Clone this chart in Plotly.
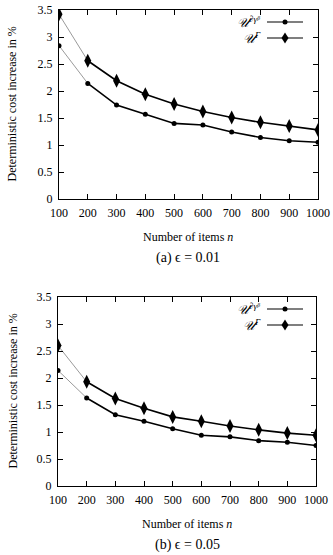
import plotly.graph_objects as go

n_items = [100, 200, 300, 400, 500, 600, 700, 800, 900, 1000]
a_ugb = [2.84, 2.14, 1.74, 1.57, 1.40, 1.37, 1.24, 1.14, 1.08, 1.05]
a_gam = [3.42, 2.56, 2.19, 1.94, 1.76, 1.62, 1.51, 1.42, 1.35, 1.28]
b_ugb = [2.14, 1.63, 1.32, 1.20, 1.06, 0.94, 0.91, 0.84, 0.81, 0.75]
b_gam = [2.60, 1.93, 1.62, 1.44, 1.28, 1.20, 1.11, 1.04, 0.98, 0.94]
x_ticks = [100, 200, 300, 400, 500, 600, 700, 800, 900, 1000]
y_ticks = [0, 0.5, 1, 1.5, 2, 2.5, 3, 3.5]
y_ticklabels = ["0", "0.5", "1", "1.5", "2", "2.5", "3", "3.5"]
series_names = ["𝒰<sup>∂γᵝ</sup>", "𝒰<sup>Γ</sup>"]
captions = ["(a) ϵ = 0.01", "(b) ϵ = 0.05"]

W, H = 333, 555
SERIF = "'Liberation Serif', 'DejaVu Serif', serif"

fig = go.Figure()

panels = [
    dict(xa="x", ya="y", ugb=a_ugb, gam=a_gam, px=(59, 318), py=(10, 199)),
    dict(xa="x2", ya="y2", ugb=b_ugb, gam=b_gam, px=(58, 316), py=(297, 486)),
]

for p in panels:
    for vals, sym, msize in [(p["ugb"], "circle", 5), (p["gam"], "diamond-tall", 10)]:
        fig.add_trace(go.Scatter(x=n_items[:2], y=vals[:2], mode="lines",
                                 line=dict(color="#9a9a9a", width=1),
                                 xaxis=p["xa"], yaxis=p["ya"], showlegend=False,
                                 hoverinfo="skip"))
        fig.add_trace(go.Scatter(x=n_items[1:], y=vals[1:], mode="lines",
                                 line=dict(color="black", width=1.6),
                                 xaxis=p["xa"], yaxis=p["ya"], showlegend=False))
        fig.add_trace(go.Scatter(x=n_items, y=vals, mode="markers",
                                 marker=dict(symbol=sym, size=msize, color="black"),
                                 xaxis=p["xa"], yaxis=p["ya"], showlegend=False))

axis_common = dict(showgrid=False, zeroline=False, showline=True, linecolor="black",
                   linewidth=1, mirror="ticks", ticks="inside", ticklen=5,
                   tickcolor="black", tickwidth=1, automargin=False,
                   tickfont=dict(family=SERIF, size=12, color="black"))

layout = dict(width=W, height=H, margin=dict(l=0, r=0, t=0, b=0),
              paper_bgcolor="white", plot_bgcolor="white", showlegend=False)

annotations = []
shapes = []
for i, p in enumerate(panels):
    sfx = "" if i == 0 else "2"
    x0, x1 = p["px"]
    y0, y1 = p["py"]
    layout["xaxis" + sfx] = dict(axis_common, domain=[x0 / W, x1 / W], range=[100, 1000],
                                 tickvals=x_ticks, anchor="y" + sfx, ticklabelstandoff=3)
    layout["yaxis" + sfx] = dict(axis_common, domain=[1 - y1 / H, 1 - y0 / H], range=[0, 3.5],
                                 tickvals=y_ticks, ticktext=y_ticklabels, anchor="x" + sfx,
                                 ticklabelstandoff=3)
    cx = (x0 + x1) / 2
    cy = (y0 + y1) / 2
    annotations.append(dict(text="Deterministic cost increase in %", textangle=-90,
                            x=12 / W, y=1 - cy / H, xref="paper", yref="paper",
                            xanchor="center", yanchor="middle",
                            showarrow=False, font=dict(family=SERIF, size=12, color="black")))
    annotations.append(dict(text="Number of items <i>n</i>",
                            x=cx / W, y=1 - (y1 + 38) / H, xref="paper", yref="paper",
                            xanchor="center", yanchor="middle",
                            showarrow=False, font=dict(family=SERIF, size=12, color="black")))
    annotations.append(dict(text=captions[i],
                            x=cx / W, y=1 - (y1 + 59) / H, xref="paper", yref="paper",
                            xanchor="center", yanchor="middle",
                            showarrow=False, font=dict(family=SERIF, size=14, color="black")))
    for j, (name, sym) in enumerate(zip(series_names, ["circle", "diamond"])):
        ly = y0 + 12 + j * 16
        annotations.append(dict(text="<i>" + name + "</i>", x=263 / W, y=1 - ly / H,
                                xref="paper", yref="paper", xanchor="right", yanchor="middle",
                                showarrow=False, font=dict(family=SERIF, size=13, color="black")))
        lx0, lx1 = 267, 303
        shapes.append(dict(type="line", xref="paper", yref="paper",
                           x0=lx0 / W, x1=lx1 / W, y0=1 - ly / H, y1=1 - ly / H,
                           line=dict(color="black", width=1.2)))
        mx = (lx0 + lx1) / 2
        if sym == "circle":
            shapes.append(dict(type="circle", xref="paper", yref="paper",
                               xsizemode="pixel", ysizemode="pixel",
                               xanchor=mx / W, yanchor=1 - ly / H,
                               x0=-2.5, x1=2.5, y0=-2.5, y1=2.5,
                               fillcolor="black", line=dict(color="black", width=0)))
        else:
            shapes.append(dict(type="path", xref="paper", yref="paper",
                               xsizemode="pixel", ysizemode="pixel",
                               xanchor=mx / W, yanchor=1 - ly / H,
                               path="M 0 5.5 L 3.5 0 L 0 -5.5 L -3.5 0 Z",
                               fillcolor="black", line=dict(color="black", width=0)))

layout["annotations"] = annotations
layout["shapes"] = shapes
fig.update_layout(**layout)
fig.write_html("out.html")
